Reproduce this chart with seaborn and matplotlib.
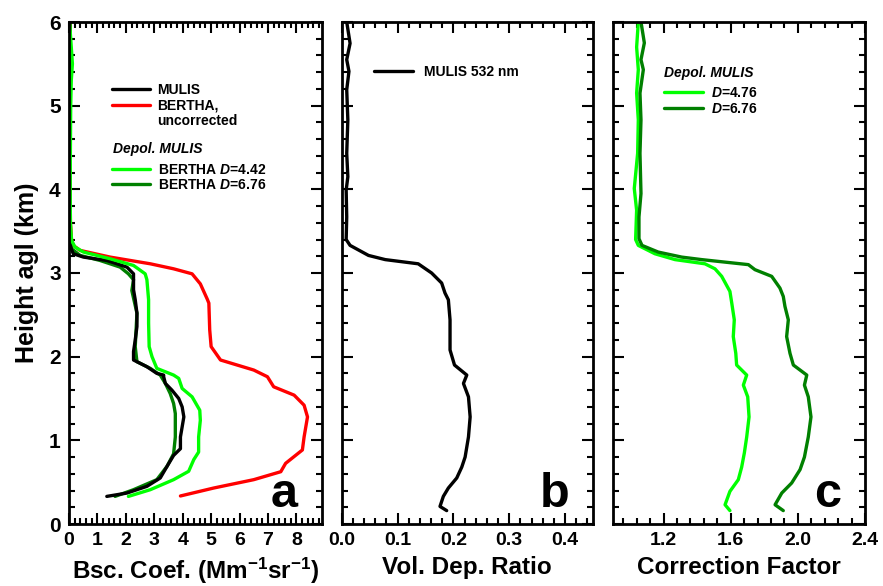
import matplotlib
matplotlib.use("Agg")
import matplotlib.pyplot as plt
from matplotlib.lines import Line2D
from matplotlib.ticker import MultipleLocator, FormatStrFormatter
import seaborn as sns
import pandas as pd

# ---------------- data ----------------
# Panel a: backscatter coefficient (Mm-1 sr-1) vs height (km)
mulis_h = [0.33, 0.37, 0.45, 0.55, 0.69, 0.82, 0.90, 1.04, 1.16, 1.28, 1.40, 1.50, 1.60, 1.68, 1.76,
           1.78, 1.80, 1.88, 1.96, 2.06, 2.20, 2.36, 2.52, 2.68, 2.80, 2.92, 2.99, 3.07, 3.15, 3.19,
           3.23, 3.31, 3.40, 3.60, 4.00, 4.50, 5.00, 5.50, 6.00]
mulis_b = [1.33, 2.04, 2.74, 3.21, 3.45, 3.68, 3.92, 3.92, 3.98, 4.04, 3.98, 3.86, 3.62, 3.39, 3.33,
           3.33, 3.09, 2.74, 2.27, 2.27, 2.33, 2.39, 2.39, 2.33, 2.27, 2.27, 2.27, 2.04, 1.33, 0.51,
           0.15, 0.06, 0.03, 0.03, 0.02, 0.03, 0.02, 0.03, 0.02]

bertha_h = [0.335, 0.43, 0.53, 0.625, 0.725, 0.885, 1.04, 1.28, 1.42, 1.54, 1.64, 1.76, 1.84, 1.96,
            2.12, 2.32, 2.64, 2.69, 2.87, 2.99, 3.05, 3.11, 3.19, 3.27, 3.33, 3.39, 3.60, 4.00, 4.50,
            5.00, 5.50, 6.00]
bertha_b = [3.92, 5.09, 6.50, 7.45, 7.62, 8.21, 8.27, 8.39, 8.27, 7.92, 7.20, 6.98, 6.50, 5.33,
            5.00, 4.95, 4.92, 4.86, 4.62, 4.33, 3.68, 2.86, 1.45, 0.39, 0.15, 0.09, 0.05, 0.04, 0.04,
            0.04, 0.05, 0.04]

b442_h = [0.33, 0.41, 0.53, 0.63, 0.77, 0.86, 1.04, 1.24, 1.36, 1.52, 1.62, 1.74, 1.78, 1.86, 2.00,
          2.12, 2.40, 2.68, 2.92, 2.99, 3.09, 3.17, 3.25, 3.31, 3.39, 3.60, 4.00, 4.50, 5.00, 5.30,
          5.50, 5.70, 6.00]
b442_b = [2.09, 2.86, 3.68, 4.21, 4.39, 4.56, 4.56, 4.62, 4.60, 4.33, 3.98, 3.86, 3.68, 3.09, 2.92,
          2.82, 2.80, 2.80, 2.74, 2.68, 2.27, 1.45, 0.51, 0.21, 0.09, 0.05, 0.04, 0.05, 0.06, 0.08,
          0.12, 0.08, 0.02]

b676_h = [0.33, 0.41, 0.53, 0.69, 0.84, 1.04, 1.32, 1.44, 1.56, 1.68, 1.78, 1.86, 1.94, 2.12, 2.52,
          2.79, 2.92, 2.99, 3.07, 3.15, 3.21, 3.29, 3.37, 3.60, 4.00, 4.50, 5.00, 5.50, 6.00]
b676_b = [1.62, 2.27, 3.09, 3.45, 3.68, 3.74, 3.74, 3.68, 3.56, 3.39, 3.21, 2.86, 2.39, 2.33, 2.39,
          2.21, 2.27, 2.09, 1.80, 1.09, 0.39, 0.09, 0.04, 0.03, 0.03, 0.03, 0.03, 0.04, 0.03]

# Panel b: volume depolarization ratio MULIS 532 nm
vdr_h = [0.16, 0.21, 0.33, 0.43, 0.55, 0.68, 0.80, 1.04, 1.28, 1.52, 1.68, 1.78, 1.90, 2.08, 2.44,
         2.68, 2.76, 2.88, 3.00, 3.11, 3.16, 3.21, 3.33, 3.40, 3.67, 3.99, 4.15, 4.43, 4.83, 5.19,
         5.41, 5.55, 5.745, 6.00]
vdr_v = [0.188, 0.176, 0.182, 0.191, 0.206, 0.215, 0.221, 0.227, 0.230, 0.227, 0.218, 0.224, 0.202,
         0.194, 0.194, 0.191, 0.185, 0.179, 0.161, 0.137, 0.078, 0.048, 0.015, 0.008, 0.009, 0.008,
         0.011, 0.009, 0.011, 0.009, 0.013, 0.009, 0.015, 0.009]

# Panel c: correction factor
cf476_h = [0.16, 0.23, 0.39, 0.53, 0.68, 0.85, 1.04, 1.28, 1.52, 1.66, 1.78, 1.90, 2.04, 2.24, 2.44,
           2.64, 2.78, 2.96, 3.05, 3.11, 3.16, 3.23, 3.33, 3.40, 3.75, 4.01, 4.43, 4.83, 5.15, 5.43,
           5.70, 6.00]
cf476_v = [1.595, 1.566, 1.595, 1.645, 1.665, 1.681, 1.695, 1.709, 1.701, 1.675, 1.695, 1.635, 1.630,
           1.615, 1.621, 1.606, 1.595, 1.546, 1.506, 1.446, 1.268, 1.148, 1.049, 1.033, 1.039, 1.025,
           1.045, 1.049, 1.039, 1.049, 1.039, 1.049]

cf676_h = [0.16, 0.23, 0.37, 0.49, 0.65, 0.80, 1.04, 1.28, 1.52, 1.66, 1.78, 1.90, 2.04, 2.24, 2.44,
           2.60, 2.72, 2.82, 2.96, 3.04, 3.10, 3.16, 3.19, 3.25, 3.33, 3.41, 3.67, 3.95, 4.43, 4.83,
           5.15, 5.43, 5.55, 5.75, 6.00]
cf676_v = [1.913, 1.864, 1.904, 1.963, 2.013, 2.039, 2.062, 2.078, 2.062, 2.039, 2.053, 1.973, 1.953,
           1.933, 1.943, 1.923, 1.913, 1.893, 1.844, 1.744, 1.705, 1.427, 1.308, 1.168, 1.071, 1.053,
           1.053, 1.065, 1.059, 1.065, 1.059, 1.079, 1.065, 1.085, 1.065]

xlabels = ["Bsc. Coef. (Mm$^{\\mathrm{-1}}$sr$^{\\mathrm{-1}}$)", "Vol. Dep. Ratio", "Correction Factor"]
ylabel = "Height agl (km)"
panel_letters = ["a", "b", "c"]

C_BLACK = "#000000"
C_RED = "#ff0000"
C_LGREEN = "#00ff00"
C_DGREEN = "#008000"

# ---------------- style ----------------
sns.set_style("ticks")
plt.rcParams["font.family"] = ["Liberation Sans", "DejaVu Sans"]
plt.rcParams["font.weight"] = "bold"
plt.rcParams["axes.labelweight"] = "bold"
plt.rcParams["mathtext.fontset"] = "custom"
plt.rcParams["mathtext.rm"] = "Liberation Sans:bold"
plt.rcParams["mathtext.bf"] = "Liberation Sans:bold"
plt.rcParams["mathtext.it"] = "Liberation Sans:italic:bold"
plt.rcParams["axes.linewidth"] = 2.0
for k in ["axes.edgecolor", "xtick.color", "ytick.color", "text.color", "axes.labelcolor"]:
    plt.rcParams[k] = "black"

W, H = 883, 586
fig = plt.figure(figsize=(W / 100, H / 100), dpi=100)
top_px, bot_px = 22, 524
lefts = [69, 341.7, 613.3]
widths = [253, 251.3, 251.7]
axes = [fig.add_axes([l / W, 1 - bot_px / H, w / W, (bot_px - top_px) / H]) for l, w in zip(lefts, widths)]

LW = 2.4


def prof(ax, x, y, color, label=None):
    df = pd.DataFrame({"x": x, "y": y})
    sns.lineplot(data=df, x="x", y="y", sort=False, estimator=None, ax=ax, color=color,
                 lw=LW, label=label, legend=False)


# panel a
axa = axes[0]
prof(axa, bertha_b, bertha_h, C_RED)
prof(axa, b676_b, b676_h, C_DGREEN)
prof(axa, mulis_b, mulis_h, C_BLACK)
prof(axa, b442_b, b442_h, C_LGREEN)
axa.set_xlim(0, 8.9)
axa.xaxis.set_major_locator(MultipleLocator(1))
axa.xaxis.set_minor_locator(MultipleLocator(0.2))
axa.xaxis.set_major_formatter(FormatStrFormatter("%d"))

# panel b
axb = axes[1]
prof(axb, vdr_v, vdr_h, C_BLACK)
axb.set_xlim(0, 0.45)
axb.xaxis.set_major_locator(MultipleLocator(0.1))
axb.xaxis.set_minor_locator(MultipleLocator(0.02))
axb.xaxis.set_major_formatter(FormatStrFormatter("%.1f"))

# panel c
axc = axes[2]
prof(axc, cf476_v, cf476_h, C_LGREEN)
prof(axc, cf676_v, cf676_h, C_DGREEN)
axc.set_xlim(0.9, 2.4)
axc.xaxis.set_major_locator(MultipleLocator(0.4))
axc.xaxis.set_minor_locator(MultipleLocator(0.08))
axc.xaxis.set_major_formatter(FormatStrFormatter("%.1f"))

for i, ax in enumerate(axes):
    ax.set_ylim(0, 6)
    ax.yaxis.set_major_locator(MultipleLocator(1))
    ax.yaxis.set_minor_locator(MultipleLocator(0.2))
    ax.tick_params(which="both", direction="in", top=True, right=True, width=1.5, color="black")
    ax.tick_params(which="major", length=8)
    ax.tick_params(which="minor", length=4)
    ax.tick_params(axis="x", which="major", labelsize=14, pad=6)
    ax.tick_params(axis="y", which="major", labelsize=15, pad=6)
    for s in ax.spines.values():
        s.set_linewidth(2.0)
        s.set_color("black")
        s.set_visible(True)
    ax.set_xlabel(xlabels[i], fontsize=17.5, fontweight="bold", labelpad=5)
    if i == 0:
        ax.set_ylabel(ylabel, fontsize=18, fontweight="bold", labelpad=7)
    else:
        ax.set_ylabel("")
        ax.tick_params(axis="y", labelleft=False)
    ax.text(0.905, 0.034, panel_letters[i], transform=ax.transAxes, ha="right", va="baseline",
            fontsize=35, fontweight="bold")

# legends
leg_kw = dict(frameon=False, fontsize=10, borderpad=0, borderaxespad=0, labelspacing=0.12,
              handlelength=2.75, handletextpad=0.55, loc="center left")
h1 = [Line2D([], [], color=C_BLACK, lw=LW), Line2D([], [], color=C_RED, lw=LW),
      Line2D([], [], color="none", lw=LW)]
lg1 = axa.legend(handles=h1, labels=["MULIS", "BERTHA,", "uncorrected"],
                 bbox_to_anchor=(0.169, 0.8333), **leg_kw)
axa.add_artist(lg1)
axa.text(0.1755, 0.7464, "Depol. MULIS", transform=axa.transAxes, fontsize=10, fontweight="bold",
         fontstyle="italic", va="center", ha="left")
h2 = [Line2D([], [], color=C_LGREEN, lw=LW), Line2D([], [], color=C_DGREEN, lw=LW)]
lg2 = axa.legend(handles=h2, labels=["BERTHA $D$=4.42", "BERTHA $D$=6.76"],
                 bbox_to_anchor=(0.169, 0.6902), **leg_kw)

kb = dict(leg_kw)
kb.update(handlelength=2.8, handletextpad=0.79)
axb.legend(handles=[Line2D([], [], color=C_BLACK, lw=LW)], labels=["MULIS 532 nm"],
           bbox_to_anchor=(0.130, 0.901), **kb)

axc.text(0.2026, 0.898, "Depol. MULIS", transform=axc.transAxes, fontsize=10, fontweight="bold",
         fontstyle="italic", va="center", ha="left")
kc = dict(leg_kw)
kc.update(handlelength=2.8, handletextpad=0.58)
axc.legend(handles=[Line2D([], [], color=C_LGREEN, lw=LW), Line2D([], [], color=C_DGREEN, lw=LW)],
           labels=["$D$=4.76", "$D$=6.76"], bbox_to_anchor=(0.2026, 0.843), **kc)

fig.savefig("out.png", dpi=100)
